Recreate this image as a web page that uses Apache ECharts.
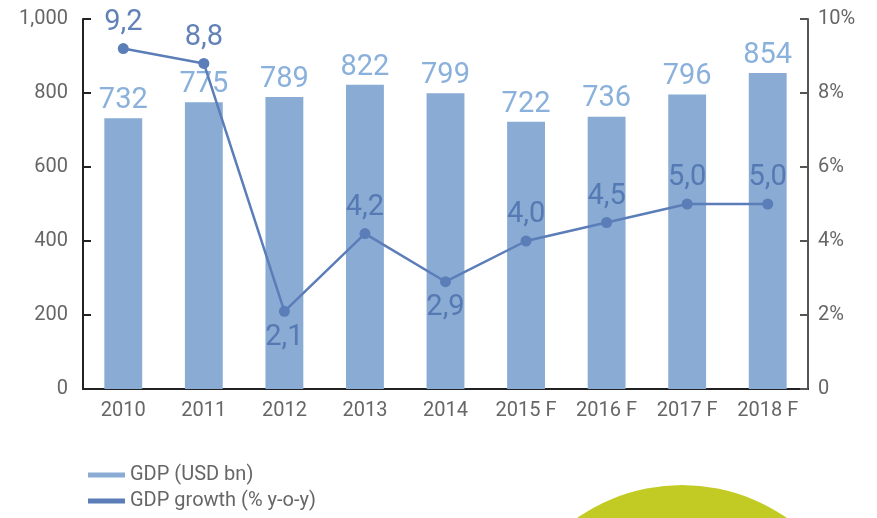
<!DOCTYPE html>
<html><head><meta charset="utf-8">
<script src="https://cdn.jsdelivr.net/npm/echarts@6/dist/echarts.min.js"></script>
<style>html,body{margin:0;padding:0;background:#fff}#c{width:877px;height:518px}</style>
</head><body><div id="c"></div>
<script>
const categories = ['2010','2011','2012','2013','2014','2015 F','2016 F','2017 F','2018 F'];
const gdpValues = [732, 775, 789, 822, 799, 722, 736, 796, 854];
const growthValues = [9.2, 8.8, 2.1, 4.2, 2.9, 4.0, 4.5, 5.0, 5.0];
const growthLabelPos = ['top','top','bottom','top','bottom','top','top','top','top'];
const leftTicks = [0, 200, 400, 600, 800, 1000];
const rightTicks = [0, 2, 4, 6, 8, 10];

const font = 'Roboto, sans-serif';
const chart = echarts.init(document.getElementById('c'));
const legendText = { fontFamily: font, fontSize: 20, color: '#666' };
chart.setOption({
  animation: false,
  graphic: [{
    type: 'circle', shape: { cx: 682, cy: 668, r: 183 }, style: { fill: '#c2cb24' }, z: -10
  }],
  legend: [{
    left: 83, top: 460, itemWidth: 37, itemHeight: 5, textStyle: legendText,
    data: [{ name: 'GDP (USD bn)', icon: 'rect', itemStyle: { color: '#89abd4' } }]
  }, {
    left: 83, top: 486, itemWidth: 37, itemHeight: 5, textStyle: legendText,
    data: [{ name: 'GDP growth (% y-o-y)', icon: 'rect', itemStyle: { color: '#5b7db8' } }]
  }],
  grid: { left: 83, right: 69, top: 19, bottom: 129, containLabel: false },
  xAxis: {
    type: 'category', data: categories,
    axisLine: { lineStyle: { color: '#222', width: 2 } },
    axisTick: { inside: true, length: 7, lineStyle: { color: '#222', width: 2 } },
    axisLabel: { fontFamily: font, fontSize: 20, color: '#666', margin: 12 }
  },
  yAxis: [{
    type: 'value', min: 0, max: 1000, interval: 200,
    axisLine: { show: true, lineStyle: { color: '#222', width: 2 } },
    axisTick: { show: true, inside: true, length: 8, lineStyle: { color: '#222', width: 2 } },
    splitLine: { show: false },
    axisLabel: { fontFamily: font, fontSize: 20, color: '#666', margin: 15,
      formatter: v => leftTicks.includes(v) ? v.toLocaleString('en-US') : '' }
  }, {
    type: 'value', min: 0, max: 10, interval: 2, position: 'right',
    axisLine: { show: true, lineStyle: { color: '#555', width: 2 } },
    axisTick: { show: true, inside: true, length: 8, lineStyle: { color: '#555', width: 2 } },
    splitLine: { show: false },
    axisLabel: { fontFamily: font, fontSize: 20, color: '#666', margin: 10,
      formatter: v => rightTicks.includes(v) ? (v === 0 ? '0' : v + '%') : '' }
  }],
  series: [{
    name: 'GDP (USD bn)', type: 'bar', data: gdpValues, barWidth: '47%',
    itemStyle: { color: '#89abd4' },
    label: { show: true, position: 'top', distance: 3, fontFamily: font, fontSize: 29, color: '#8ab0dc' }
  }, {
    name: 'GDP growth (% y-o-y)', type: 'line', yAxisIndex: 1,
    data: growthValues.map((v, i) => ({ value: v, label: { position: growthLabelPos[i] } })),
    symbol: 'circle', symbolSize: 11,
    lineStyle: { color: '#5b7db8', width: 2.5 }, itemStyle: { color: '#5b7db8' },
    label: { show: true, distance: 6, fontFamily: font, fontSize: 29, color: 'rgba(80,115,175,0.9)',
      formatter: p => p.value.toFixed(1).replace('.', ',') }
  }]
});
</script></body></html>
